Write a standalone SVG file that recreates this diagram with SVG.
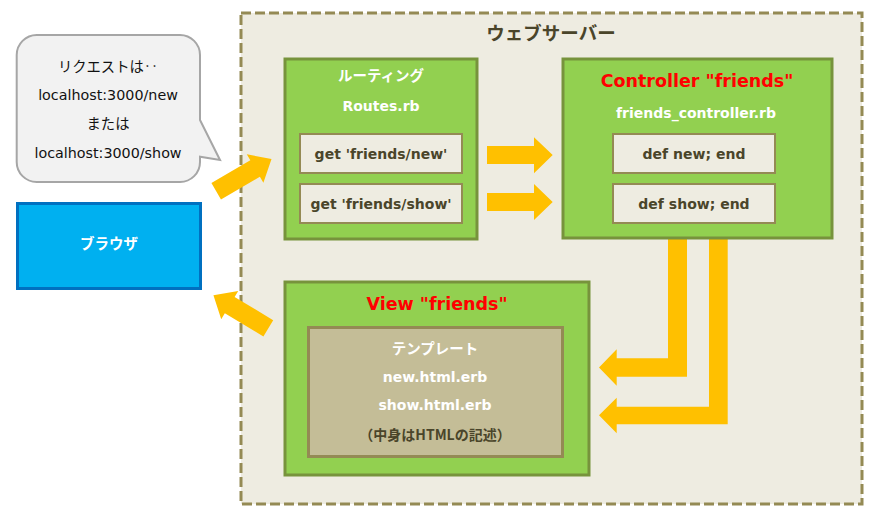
<svg xmlns="http://www.w3.org/2000/svg" xmlns:xlink="http://www.w3.org/1999/xlink" width="878" height="520" viewBox="0 0 878 520">
<style>
text{font-family:"DejaVu Sans","Noto Sans CJK JP",sans-serif;text-anchor:middle}
.green{fill:#92D050;stroke:#77933C;stroke-width:3}
.light{fill:#EEECE1;stroke:#948A54;stroke-width:2}
.arrow{fill:#FFC000}
.code{font-size:14px;font-weight:bold;fill:#4A452A}
.white{font-size:14px;font-weight:bold;fill:#FFFFFF}
.jw{font-family:"Noto Sans CJK JP",sans-serif;font-size:14.5px;font-weight:bold;fill:#FFFFFF}
.red{font-size:17.5px;font-weight:bold;fill:#FF0000}
.bub{font-size:14.3px;fill:#111111}
.bubj{font-family:"Noto Sans CJK JP",sans-serif;font-size:14.3px;fill:#111111}
</style>
<defs>
<polygon id="arr" points="0,-9.5 45,-9.5 45,-16.5 64,0 45,16.5 45,9.5 0,9.5"/>
</defs>
<rect width="878" height="520" fill="#FFFFFF"/>

<g id="webserver">
<rect x="241" y="13" width="621" height="491" fill="#EEECE1" stroke="#948A54" stroke-width="3" stroke-dasharray="10 4"/>
<text x="551" y="40" style="font-family:'Noto Sans CJK JP',sans-serif;font-size:18.5px;font-weight:bold;fill:#4A452A">ウェブサーバー</text>
</g>

<g id="bubble">
<path d="M36.7,35 H180 A20,20 0 0 1 200,55 V120 L220,160 L200,156.7 V162 A20,20 0 0 1 180,182 H36.7 A20,20 0 0 1 16.7,162 V55 A20,20 0 0 1 36.7,35 Z" fill="#F2F2F2" stroke="#A6A6A6" stroke-width="2"/>
<text class="bubj" x="108" y="71.5">リクエストは‥</text>
<text class="bub" x="108" y="100">localhost:3000/new</text>
<text class="bubj" x="108" y="128.5">または</text>
<text class="bub" x="108" y="157.5">localhost:3000/show</text>
</g>

<g id="browser">
<rect x="17.5" y="203.5" width="183" height="85" fill="#00B0F0" stroke="#0070C0" stroke-width="3"/>
<text class="jw" x="109" y="249">ブラウザ</text>
</g>

<g id="connectors">
<use xlink:href="#arr" href="#arr" class="arrow" transform="translate(216.2,191.2) rotate(-30.2)"/>
<use xlink:href="#arr" href="#arr" class="arrow" transform="translate(268.3,328.3) rotate(-149)"/>
<polygon class="arrow" points="487,146 534,146 534,137.3 552.7,155 534,173.3 534,164 487,164"/>
<polygon class="arrow" points="487,193 534,193 534,184 552.7,202 534,220 534,211 487,211"/>
<polygon class="arrow" points="668,239 687,239 687,376.7 616.7,376.7 616.7,385.7 599,367.5 616.7,349.3 616.7,358.3 668,358.3"/>
<polygon class="arrow" points="709,239 727.7,239 727.7,424.3 616.7,424.3 616.7,433.3 599,415.3 616.7,397.7 616.7,406.7 709,406.7"/>
</g>

<g id="routes">
<rect class="green" x="285" y="59" width="192" height="180"/>
<text class="jw" x="381" y="81">ルーティング</text>
<text class="white" x="381" y="110.5">Routes.rb</text>
<rect class="light" x="300" y="134" width="162" height="39"/>
<text class="code" x="381" y="158.5">get 'friends/new'</text>
<rect class="light" x="300" y="184" width="162" height="39"/>
<text class="code" x="381" y="208.5">get 'friends/show'</text>
</g>

<g id="controller">
<rect class="green" x="563" y="59" width="269" height="179"/>
<text class="red" x="697" y="86.5">Controller "friends"</text>
<text class="white" x="696" y="117.5">friends_controller.rb</text>
<rect class="light" x="613" y="134" width="162" height="39"/>
<text class="code" x="694" y="158.5">def new; end</text>
<rect class="light" x="613" y="184" width="162" height="39"/>
<text class="code" x="694" y="208.5">def show; end</text>
</g>

<g id="view">
<rect class="green" x="285" y="282" width="304" height="193"/>
<text class="red" x="437" y="310">View "friends"</text>
<rect x="308.5" y="327.5" width="254" height="129" fill="#C4BD97" stroke="#948A54" stroke-width="3"/>
<text class="jw" x="435" y="353.8">テンプレート</text>
<text class="white" x="435" y="381.5">new.html.erb</text>
<text class="white" x="435" y="410">show.html.erb</text>
<text x="435" y="439.5" style="font-family:'Noto Sans CJK JP',sans-serif;font-size:14px;font-weight:bold;fill:#4A452A">（中身はHTMLの記述）</text>
</g>
</svg>
